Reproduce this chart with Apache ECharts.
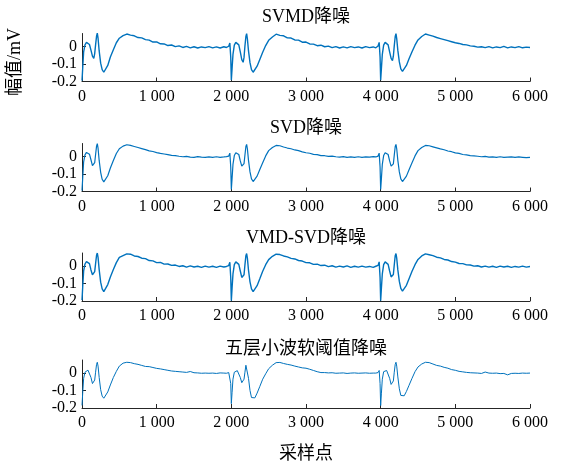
<!DOCTYPE html>
<html><head><meta charset="utf-8">
<script src="https://cdn.jsdelivr.net/npm/echarts@6/dist/echarts.min.js"></script>
<style>html,body{margin:0;padding:0;background:#fff}#c{width:572px;height:463px}</style>
</head><body><div id="c"></div>
<script>
// Sample indices (x positions), shared by all four panels
const samplePts = [
  0,10,22,40,60,80,100,120,140,
  158,170,182,195,205,215,230,250,270,292,315,345,
  380,420,460,500,550,600,650,700,750,
  800,850,900,950,1000,1050,1100,1150,1200,
  1250,1300,1350,1400,1450,1500,1550,1600,1650,
  1700,1750,1800,1850,1900,1935,1965,1980,1992,
  2000,2010,2022,2040,2060,2080,2100,2120,2140,
  2158,2170,2182,2195,2205,2215,2230,2250,2270,2292,2315,2345,
  2380,2420,2460,2500,2550,2600,2650,2700,2750,
  2800,2850,2900,2950,3000,3050,3100,3150,3200,
  3250,3300,3350,3400,3450,3500,3550,3600,3650,
  3700,3750,3800,3850,3900,3935,3965,3980,3992,
  4000,4010,4022,4040,4060,4080,4100,4120,4140,
  4158,4170,4182,4195,4205,4215,4230,4250,4270,4292,4315,4345,
  4380,4420,4460,4500,4550,4600,4650,4700,4750,
  4800,4850,4900,4950,5000,5050,5100,5150,5200,
  5250,5300,5350,5400,5450,5500,5550,5600,5650,
  5700,5750,5800,5850,5900,5950,6000
];

// SVMD denoised signal (mV)
const svmdVals = [
  -0.195,-0.12,-0.03,0.010,0.024,0.028,0.012,-0.020,-0.055,
  -0.068,-0.040,0.010,0.060,0.077,0.048,-0.025,-0.095,-0.132,-0.147,-0.138,-0.108,
  -0.060,-0.018,0.022,0.048,0.063,0.072,0.066,0.062,0.052,
  0.050,0.040,0.037,0.026,0.027,0.016,0.015,0.006,0.009,
  0.000,0.004,-0.005,0.001,-0.007,-0.001,-0.008,-0.002,-0.006,
  0.000,-0.007,-0.002,-0.008,-0.001,-0.005,0.002,0.020,-0.060,
  -0.192,-0.125,-0.045,0.008,0.024,0.027,0.010,-0.030,-0.075,
  -0.090,-0.062,0.002,0.058,0.074,0.045,-0.025,-0.092,-0.132,-0.147,-0.140,-0.112,
  -0.075,-0.032,0.006,0.036,0.055,0.071,0.064,0.062,0.050,
  0.049,0.038,0.037,0.025,0.026,0.015,0.014,0.005,0.008,
  -0.001,0.003,-0.006,0.000,-0.008,-0.002,-0.007,0.000,-0.006,
  -0.002,-0.008,0.000,-0.006,-0.002,-0.007,0.003,0.024,-0.060,
  -0.192,-0.125,-0.045,0.008,0.024,0.028,0.010,-0.030,-0.068,
  -0.080,-0.055,0.004,0.058,0.074,0.046,-0.022,-0.088,-0.128,-0.142,-0.136,-0.108,
  -0.070,-0.030,0.008,0.038,0.058,0.072,0.066,0.060,0.052,
  0.046,0.040,0.034,0.028,0.022,0.018,0.012,0.010,0.004,
  0.002,-0.003,-0.001,-0.006,0.000,-0.007,-0.002,-0.006,0.001,
  -0.007,-0.002,-0.006,0.000,-0.007,-0.003,-0.005
];

// SVD denoised signal (mV)
const svdVals = [
  -0.195,-0.120,-0.030,0.010,0.024,0.027,0.014,-0.018,-0.052,
  -0.062,-0.035,0.012,0.060,0.074,0.048,-0.022,-0.090,-0.130,-0.145,-0.138,-0.110,
  -0.065,-0.022,0.018,0.045,0.060,0.068,0.064,0.058,0.052,
  0.046,0.040,0.033,0.029,0.023,0.018,0.015,0.011,0.007,
  0.006,0.002,-0.001,0.001,-0.003,-0.004,0.000,-0.003,-0.005,
  -0.002,-0.004,-0.001,-0.004,-0.002,0.000,0.003,0.020,-0.060,
  -0.188,-0.125,-0.045,0.006,0.022,0.026,0.012,-0.025,-0.055,
  -0.060,-0.040,0.008,0.058,0.070,0.045,-0.022,-0.088,-0.128,-0.143,-0.138,-0.112,
  -0.075,-0.035,0.004,0.034,0.052,0.064,0.062,0.055,0.049,
  0.045,0.038,0.034,0.027,0.022,0.019,0.013,0.011,0.006,
  0.005,0.001,0.003,-0.001,-0.003,0.000,-0.004,-0.002,-0.005,
  -0.001,-0.004,-0.002,-0.003,0.000,-0.002,0.003,0.020,-0.060,
  -0.188,-0.125,-0.045,0.006,0.022,0.026,0.012,-0.025,-0.055,
  -0.062,-0.042,0.008,0.058,0.070,0.045,-0.022,-0.088,-0.128,-0.143,-0.138,-0.112,
  -0.075,-0.035,0.004,0.034,0.052,0.064,0.062,0.056,0.050,
  0.044,0.039,0.032,0.028,0.021,0.018,0.012,0.010,0.006,
  0.004,0.002,-0.001,0.001,-0.003,-0.002,-0.004,-0.001,-0.005,
  -0.003,-0.002,-0.005,-0.002,-0.004,-0.006,-0.004
];

// VMD-SVD denoised signal (mV)
const vmdSvdVals = [
  -0.195,-0.115,-0.028,0.012,0.026,0.025,0.014,-0.022,-0.050,
  -0.060,-0.032,0.014,0.062,0.075,0.050,-0.020,-0.092,-0.130,-0.146,-0.139,-0.106,
  -0.062,-0.020,0.020,0.050,0.060,0.070,0.068,0.058,0.055,
  0.045,0.043,0.032,0.030,0.020,0.021,0.011,0.012,0.004,
  0.006,-0.002,0.002,-0.006,0.001,-0.005,-0.001,-0.007,0.000,
  -0.006,-0.001,-0.007,0.000,-0.005,-0.002,0.003,0.022,-0.065,
  -0.198,-0.125,-0.045,0.008,0.024,0.026,0.010,-0.028,-0.065,
  -0.075,-0.050,0.006,0.060,0.072,0.046,-0.024,-0.090,-0.130,-0.146,-0.140,-0.112,
  -0.074,-0.030,0.008,0.037,0.056,0.068,0.066,0.058,0.053,
  0.044,0.041,0.032,0.029,0.020,0.019,0.010,0.011,0.003,
  0.005,-0.003,0.002,-0.006,0.000,-0.005,0.001,-0.007,-0.001,
  -0.006,0.000,-0.006,-0.002,-0.007,-0.001,0.004,0.024,-0.065,
  -0.198,-0.125,-0.045,0.008,0.024,0.027,0.010,-0.028,-0.062,
  -0.072,-0.048,0.006,0.060,0.072,0.046,-0.022,-0.088,-0.128,-0.143,-0.138,-0.110,
  -0.072,-0.030,0.008,0.038,0.058,0.070,0.065,0.060,0.051,
  0.047,0.038,0.035,0.026,0.023,0.015,0.014,0.007,0.006,
  0.000,0.002,-0.005,0.000,-0.006,-0.001,-0.007,0.000,-0.005,
  -0.001,-0.007,-0.002,-0.006,0.000,-0.006,-0.002
];

// Five-level wavelet soft-threshold denoised signal (mV)
const waveletVals = [
  -0.185,-0.110,-0.030,0.005,0.015,0.017,0.008,-0.025,-0.060,
  -0.067,-0.040,0.005,0.050,0.062,0.040,-0.025,-0.095,-0.132,-0.144,-0.136,-0.108,
  -0.068,-0.025,0.010,0.040,0.057,0.062,0.060,0.054,0.050,
  0.044,0.038,0.037,0.032,0.027,0.024,0.020,0.016,0.012,
  0.010,0.008,0.006,0.004,0.009,0.002,0.001,-0.001,0.000,
  -0.001,0.000,-0.002,0.001,0.000,-0.001,0.003,0.012,-0.060,
  -0.175,-0.110,-0.035,0.005,0.013,0.014,0.004,-0.025,-0.055,
  -0.060,-0.035,0.005,0.045,0.056,0.035,-0.030,-0.100,-0.140,-0.150,-0.142,-0.115,
  -0.078,-0.035,-0.004,0.025,0.045,0.060,0.061,0.055,0.050,
  0.046,0.040,0.035,0.030,0.028,0.022,0.015,0.008,0.003,
  0.003,0.001,0.002,-0.001,0.000,0.001,-0.002,0.000,0.001,
  -0.001,0.000,0.001,-0.001,0.000,0.000,0.003,0.015,-0.060,
  -0.186,-0.115,-0.035,0.008,0.016,0.015,0.004,-0.030,-0.065,
  -0.073,-0.045,0.005,0.050,0.062,0.040,-0.022,-0.090,-0.128,-0.137,-0.130,-0.105,
  -0.070,-0.030,0.008,0.035,0.052,0.062,0.060,0.052,0.044,
  0.040,0.033,0.028,0.020,0.016,0.010,0.007,0.004,0.002,
  0.001,0.000,-0.002,0.006,0.000,-0.001,0.000,-0.003,-0.002,
  -0.010,-0.002,-0.001,-0.002,0.000,-0.001,0.000
];

const panelTitles = ['SVMD降噪', 'SVD降噪', 'VMD-SVD降噪', '五层小波软阈值降噪'];
const xTickVals = [0, 1000, 2000, 3000, 4000, 5000, 6000];
const yTickVals = [-0.2, -0.1, 0];
const yAxisName = '幅值/mV';
const xAxisName = '采样点';

const panels = [svmdVals, svdVals, vmdSvdVals, waveletVals];
const lineWidths = [1.4, 1.2, 1.4, 1.0];

const FONT = "'Liberation Serif', 'Noto Sans CJK SC', serif";
const gridTops = [33.5, 143.5, 253, 360];
const gridH = 48;
const titleY = [17, 128, 238, 349];
const AX = '#262626';

const grids = [], xAxes = [], yAxes = [], series = [], graphics = [];
panels.forEach((vals, i) => {
  grids.push({ left: 82, right: 42, top: gridTops[i], height: gridH });
  xAxes.push({
    type: 'value', gridIndex: i, min: 0, max: 6000, interval: 1000,
    axisLine: { show: true, onZero: false, lineStyle: { color: AX, width: 1 } },
    axisTick: { show: true, inside: true, length: 4, customValues: xTickVals, lineStyle: { color: AX } },
    axisLabel: {
      color: '#000', fontFamily: FONT, fontSize: 16, margin: 7,
      customValues: xTickVals,
      formatter: v => v === 0 ? '0' : Math.round(v / 1000) + ' 000'
    },
    splitLine: { show: false }
  });
  yAxes.push({
    type: 'value', gridIndex: i, min: -0.2, max: 0.075, interval: 0.1,
    axisLine: { show: true, onZero: false, lineStyle: { color: AX, width: 1 } },
    axisTick: { show: true, inside: true, length: 4, customValues: yTickVals, lineStyle: { color: AX } },
    axisLabel: {
      color: '#000', fontFamily: FONT, fontSize: 16, margin: 5,
      customValues: yTickVals,
      formatter: v => Math.abs(v) < 1e-9 ? '0' : v.toFixed(1)
    },
    splitLine: { show: false }
  });
  series.push({
    type: 'line', xAxisIndex: i, yAxisIndex: i, showSymbol: false, symbol: 'none',
    lineStyle: { color: '#0072BD', width: lineWidths[i] },
    itemStyle: { color: '#0072BD' },
    data: samplePts.map((x, k) => [x, vals[k]])
  });
  graphics.push({
    type: 'text', x: 306, y: titleY[i],
    style: { text: panelTitles[i], fill: '#000', font: '18px ' + FONT, textAlign: 'center', textVerticalAlign: 'middle' }
  });
});
graphics.push({
  type: 'text', x: 15, y: 62, rotation: Math.PI / 2,
  style: { text: yAxisName, fill: '#000', font: '18px ' + FONT, textAlign: 'center', textVerticalAlign: 'middle' }
});
graphics.push({
  type: 'text', x: 306, y: 454,
  style: { text: xAxisName, fill: '#000', font: '18px ' + FONT, textAlign: 'center', textVerticalAlign: 'middle' }
});

const chart = echarts.init(document.getElementById('c'), null, { renderer: 'canvas' });
chart.setOption({
  animation: false,
  backgroundColor: '#fff',
  grid: grids, xAxis: xAxes, yAxis: yAxes, series: series, graphic: graphics
});
</script></body></html>
